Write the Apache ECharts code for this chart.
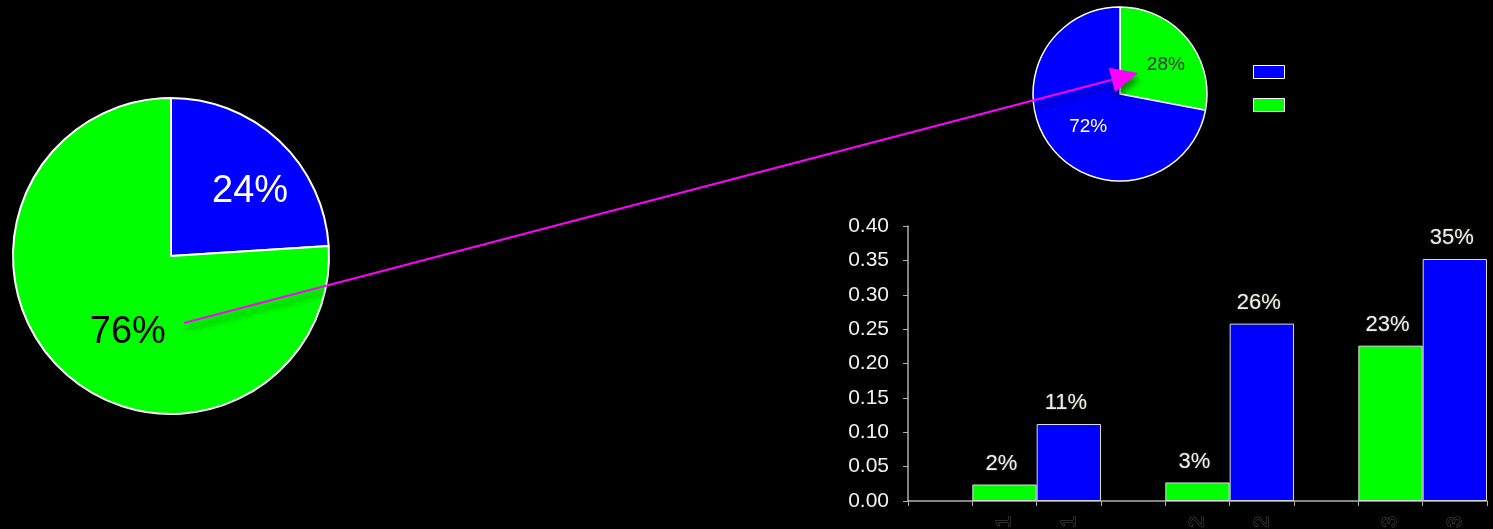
<!DOCTYPE html>
<html>
<head>
<meta charset="utf-8">
<script src="https://cdn.jsdelivr.net/npm/echarts@6/dist/echarts.min.js"></script>
<style>
  html, body { margin: 0; padding: 0; background: #000; }
  #chart { width: 1493px; height: 529px; }
</style>
</head>
<body>
<div id="chart"></div>
<script>
// Slice names shared by both pies and the legend
const sliceNames = ['Category B', 'Category A'];   // blue, green

// Large pie (blue first, clockwise from 12 o'clock)
const bigPieValues = [0.24, 0.76];
// Small pie (green first, clockwise from 12 o'clock)
const smallPieValues = [0.28, 0.72];

// Bar chart: category slots, empty slots act as spacers between pairs
const barCategories = ['', '1', '1', '', '2', '2', '', '3', '3'];
const greenBars = ['-', 0.024, '-', '-', 0.027, '-', '-', 0.226, '-'];
const blueBars  = ['-', '-', 0.112, '-', '-', 0.258, '-', '-', 0.352];

const BLUE = '#0000ff';
const GREEN = '#00ff00';
const FONT = 'Liberation Sans, Arial, sans-serif';

const bigCenter = [171, 256], bigRadius = 158;
const smallCenter = [1120, 94], smallRadius = 87;

const pct = v => Math.round(v * 100) + '%';

const chart = echarts.init(document.getElementById('chart'), null, { renderer: 'canvas' });

// Arrow linking the large slice to the small pie
const arrowStart = [bigCenter[0] + 13, bigCenter[1] + 67];
const arrowTip = [smallCenter[0] + 18, smallCenter[1] - 21];
const dx = arrowTip[0] - arrowStart[0], dy = arrowTip[1] - arrowStart[1];
const len = Math.hypot(dx, dy);
const ux = dx / len, uy = dy / len;
const headLen = 27, headHalf = 12.5;
const baseC = [arrowTip[0] - ux * headLen, arrowTip[1] - uy * headLen];
const headPts = [
  arrowTip,
  [baseC[0] - uy * headHalf, baseC[1] + ux * headHalf],
  [baseC[0] + uy * headHalf, baseC[1] - ux * headHalf]
];
const arrowShadow = { shadowColor: 'rgba(0,0,0,0.45)', shadowBlur: 6, shadowOffsetX: 2, shadowOffsetY: 6 };

const barLabel = {
  show: true, position: 'top', distance: 10,
  color: '#f0f0ea', fontSize: 22, fontFamily: FONT, offset: [-3, 0],
  textShadowColor: 'rgba(120,120,120,0.8)', textShadowBlur: 2,
  formatter: p => pct(p.value)
};

const option = {
  backgroundColor: '#000',
  animation: false,
  textStyle: { fontFamily: FONT },
  legend: {
    orient: 'vertical',
    left: 1248,
    top: 60,
    itemWidth: 31,
    itemHeight: 13,
    itemGap: 19,
    icon: 'rect',
    data: [sliceNames[0], sliceNames[1]],
    formatter: () => '',
    itemStyle: { borderColor: '#fff', borderWidth: 1 }
  },
  grid: {
    left: 908, right: 6, top: 226, bottom: 28,
    containLabel: false, outerBoundsMode: 'none'
  },
  xAxis: {
    type: 'category',
    data: barCategories,
    axisLine: { lineStyle: { color: '#b0b0b0', width: 1.5 } },
    axisTick: { show: true, interval: 0, length: 5, lineStyle: { color: '#b0b0b0' } },
    axisLabel: {
      interval: 0, rotate: 90, margin: 15,
      color: '#000', fontSize: 21, fontFamily: FONT,
      textBorderColor: '#555', textBorderWidth: 1
    }
  },
  yAxis: {
    type: 'value',
    min: 0, max: 0.4, interval: 0.05,
    axisLine: { show: true, lineStyle: { color: '#b0b0b0', width: 1.5 } },
    axisTick: { show: true, length: 5, lineStyle: { color: '#b0b0b0' } },
    splitLine: { show: false },
    axisLabel: {
      color: '#f2f2ea', fontSize: 21, fontFamily: FONT, margin: 19,
      formatter: v => v.toFixed(2)
    }
  },
  series: [
    {
      type: 'bar', name: sliceNames[1], data: greenBars,
      barWidth: '100%', barGap: '-100%',
      itemStyle: { color: GREEN, borderColor: '#dcdcdc', borderWidth: 1 },
      label: barLabel
    },
    {
      type: 'bar', name: sliceNames[0], data: blueBars,
      barWidth: '100%', barGap: '-100%',
      itemStyle: { color: BLUE, borderColor: '#dcdcdc', borderWidth: 1 },
      label: barLabel
    },
    {
      type: 'pie', name: 'large', center: bigCenter, radius: bigRadius,
      startAngle: 90, clockwise: true, silent: true,
      itemStyle: { borderColor: '#fff', borderWidth: 2 },
      labelLine: { show: false },
      data: [
        { name: sliceNames[0], value: bigPieValues[0], itemStyle: { color: BLUE },
          label: { color: '#fff', offset: [23, -5] } },
        { name: sliceNames[1], value: bigPieValues[1], itemStyle: { color: GREEN },
          label: { color: '#000', offset: [13, 17] } }
      ],
      label: {
        show: true, position: 'inside', fontSize: 38, fontFamily: FONT,
        formatter: p => pct(p.value)
      }
    },
    {
      type: 'pie', name: 'small', center: smallCenter, radius: smallRadius,
      startAngle: 90, clockwise: true, silent: true,
      itemStyle: { borderColor: '#fff', borderWidth: 1.5 },
      labelLine: { show: false },
      data: [
        { name: sliceNames[1], value: smallPieValues[0], itemStyle: { color: GREEN },
          label: { color: '#333', offset: [10, 0] } },
        { name: sliceNames[0], value: smallPieValues[1], itemStyle: { color: BLUE },
          label: { color: '#fff', offset: [4, 3] } }
      ],
      label: {
        show: true, position: 'inside', fontSize: 19, fontFamily: FONT,
        formatter: p => pct(p.value)
      }
    }
  ],
  graphic: [
    {
      type: 'line', z: 100,
      shape: { x1: arrowStart[0], y1: arrowStart[1], x2: baseC[0] + ux * 2, y2: baseC[1] + uy * 2 },
      style: Object.assign({ stroke: '#ff00ff', lineWidth: 2 }, arrowShadow)
    },
    {
      type: 'polygon', z: 100,
      shape: { points: headPts },
      style: Object.assign({ fill: '#ff00ff' }, arrowShadow)
    }
  ]
};

chart.setOption(option);
</script>
</body>
</html>
